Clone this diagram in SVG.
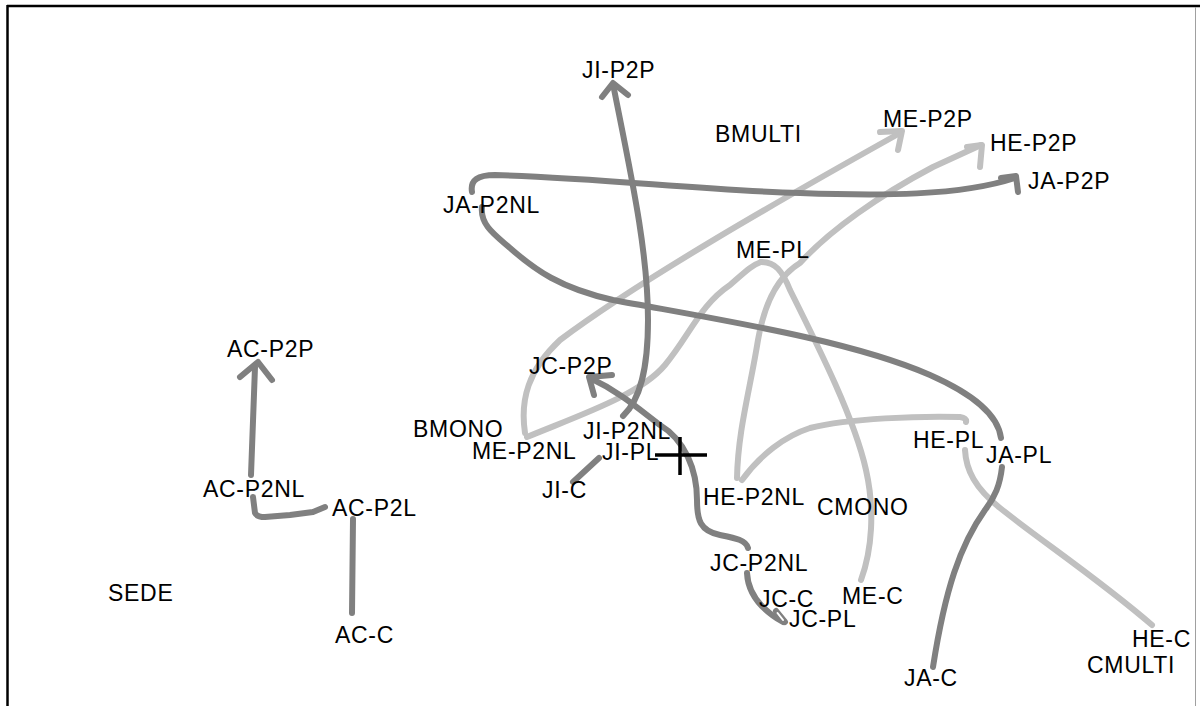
<svg xmlns="http://www.w3.org/2000/svg" width="1200" height="706" viewBox="0 0 1200 706">
<style>
.lbl{font-family:"Liberation Sans",Arial,sans-serif;font-size:23px;letter-spacing:0.7px;fill:#000}
.d{fill:none;stroke:#808080;stroke-width:6;stroke-linecap:round;stroke-linejoin:round}
.l{fill:none;stroke:#c0c0c0;stroke-width:6;stroke-linecap:round;stroke-linejoin:round}
</style>
<rect width="1200" height="706" fill="#fff"/>
<g id="frame">
<line x1="7" y1="6" x2="1200" y2="6" stroke="#000" stroke-width="2.5"/>
<line x1="7.5" y1="5" x2="7.5" y2="706" stroke="#000" stroke-width="2.5"/>
<line x1="1195.5" y1="7" x2="1195.5" y2="706" stroke="#a0a0a0" stroke-width="1"/>
</g>
<g id="connectors">
<path class="l" d="M525,433 C520,400 528,370 560,340 C640,280 780,200 900,133"/>
<path class="l" d="M880,132 L902,131 L898,150"/>
<path class="l" d="M527,437 C580,415 640,395 665,365 C690,335 700,305 730,285 C745,272 752,265 761,262"/>
<path class="l" d="M761,262 C775,262 782,270 790,290 C820,350 855,420 866,470 C875,510 872,550 861,580"/>
<path class="l" d="M737,478 C738,430 750,390 758,340 C765,300 780,275 800,263 C830,230 880,195 933,167 L981,145"/>
<path class="l" d="M967,147 L982,145 L980,167"/>
<path class="l" d="M742,480 C760,455 785,436 810,428 C850,418 920,416 960,417 Q967,418 966,422"/>
<path class="l" d="M965,450 C966,470 975,488 1000,508 C1040,540 1100,580 1152,625"/>
<path class="d" d="M623,416 C640,400 648,370 648,320 C648,250 630,170 613,84"/>
<path class="d" d="M602,97 L613,83 L628,95"/>
<path class="d" d="M472,192 C470,180 478,175 495,175 C600,178 700,190 800,193 C880,196 960,196 1015,178"/>
<path class="d" d="M1001,178 L1016,176 L1018,192"/>
<path class="d" d="M482,207 C480,225 495,235 510,248 C535,270 560,288 613,300 C720,320 850,340 930,375 C975,395 998,415 1001,438"/>
<path class="d" d="M1002,467 C1000,485 995,497 985,510 C960,545 945,590 933,667"/>
<path class="d" d="M748,548 C746,540 735,538 720,535 C700,531 697,520 697,500 C697,470 685,440 660,425 C640,410 620,392 590,378"/>
<path class="d" d="M612,375 L589,377 L594,395"/>
<path class="d" d="M747,573 C748,595 762,610 783,622"/>
<path class="d" d="M776,611 L785,622"/>
<path d="M777.5,613 L783,620" stroke="#fff" stroke-width="2" stroke-linecap="round"/>
<path class="d" d="M573,482 L599,458"/>
<path class="d" d="M251,475 L255,367"/>
<path class="d" d="M240,377 L258,362 L272,380"/>
<path class="d" d="M253,497 L255,513 Q257,517 265,517 L290,515 L313,512 L325,507"/>
<path class="d" d="M353,519 L352,613"/>
<path d="M655,455 L707,455 M680,437 L680,475" stroke="#000" stroke-width="3.5" fill="none"/>
</g>
<g id="n-JI-P2P"><text class="lbl" x="582" y="78">JI-P2P</text></g>
<g id="n-BMULTI"><text class="lbl" x="715" y="142">BMULTI</text></g>
<g id="n-JA-P2NL"><text class="lbl" x="443" y="213">JA-P2NL</text></g>
<g id="n-ME-PL"><text class="lbl" x="736" y="258">ME-PL</text></g>
<g id="n-ME-P2P"><text class="lbl" x="883" y="127">ME-P2P</text></g>
<g id="n-HE-P2P"><text class="lbl" x="990" y="151">HE-P2P</text></g>
<g id="n-JA-P2P"><text class="lbl" x="1028" y="189">JA-P2P</text></g>
<g id="n-AC-P2P"><text class="lbl" x="227" y="357">AC-P2P</text></g>
<g id="n-AC-P2NL"><text class="lbl" x="203" y="497">AC-P2NL</text></g>
<g id="n-AC-P2L"><text class="lbl" x="332" y="516">AC-P2L</text></g>
<g id="n-AC-C"><text class="lbl" x="335" y="643">AC-C</text></g>
<g id="n-SEDE"><text class="lbl" x="108" y="601">SEDE</text></g>
<g id="n-JC-P2P"><text class="lbl" x="529" y="374">JC-P2P</text></g>
<g id="n-BMONO"><text class="lbl" x="413" y="437">BMONO</text></g>
<g id="n-JI-P2NL"><text class="lbl" x="583" y="439">JI-P2NL</text></g>
<g id="n-ME-P2NL"><text class="lbl" x="472" y="459">ME-P2NL</text></g>
<g id="n-JI-PL"><text class="lbl" x="602" y="460">JI-PL</text></g>
<g id="n-JI-C"><text class="lbl" x="542" y="498">JI-C</text></g>
<g id="n-HE-P2NL"><text class="lbl" x="703" y="505">HE-P2NL</text></g>
<g id="n-CMONO"><text class="lbl" x="817" y="515">CMONO</text></g>
<g id="n-JC-P2NL"><text class="lbl" x="710" y="571">JC-P2NL</text></g>
<g id="n-JC-C"><text class="lbl" x="759" y="607">JC-C</text></g>
<g id="n-ME-C"><text class="lbl" x="842" y="604">ME-C</text></g>
<g id="n-JC-PL"><text class="lbl" x="789" y="627">JC-PL</text></g>
<g id="n-HE-PL"><text class="lbl" x="913" y="448">HE-PL</text></g>
<g id="n-JA-PL"><text class="lbl" x="986" y="463">JA-PL</text></g>
<g id="n-HE-C"><text class="lbl" x="1132" y="647">HE-C</text></g>
<g id="n-CMULTI"><text class="lbl" x="1087" y="673">CMULTI</text></g>
<g id="n-JA-C"><text class="lbl" x="904" y="686">JA-C</text></g>
</svg>
